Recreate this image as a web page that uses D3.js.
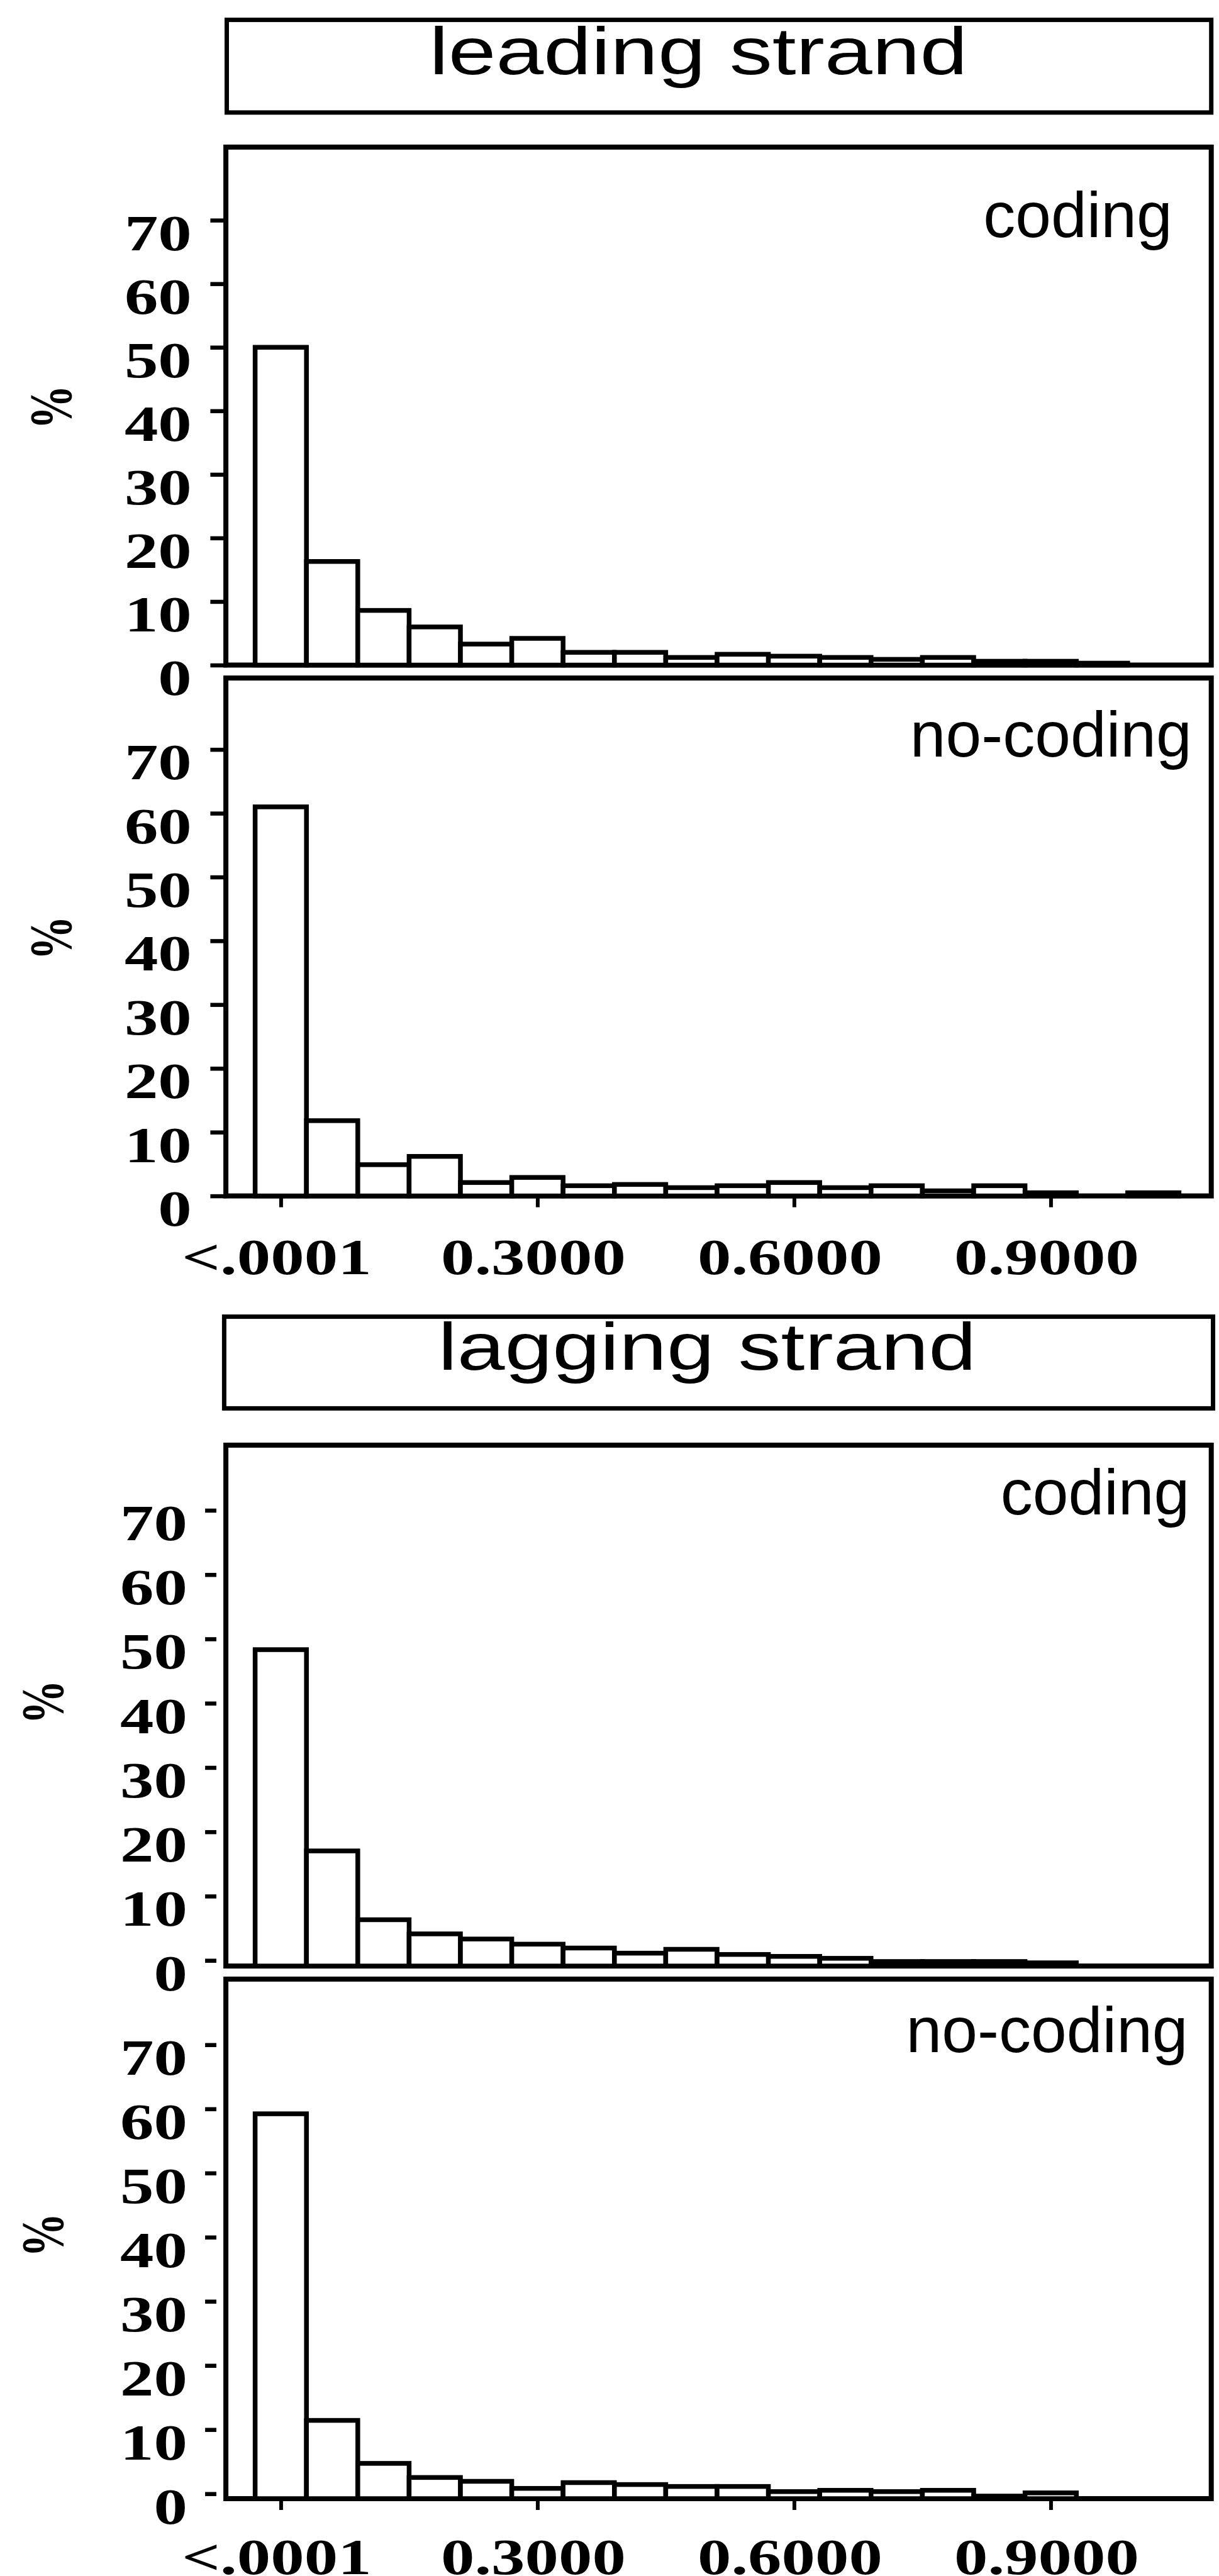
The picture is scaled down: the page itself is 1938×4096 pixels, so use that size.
<!DOCTYPE html>
<html>
<head>
<meta charset="utf-8">
<script src="https://cdn.jsdelivr.net/npm/d3@7"></script>
<style>
  body { margin: 0; background: #fff; }
  svg { display: block; background: #fff; }
</style>
</head>
<body>
<svg id="chart" width="1938" height="4096"></svg>
<script>

// histogram bins (midpoints), width 0.06
const binMids = [0, 0.06, 0.12, 0.18, 0.24, 0.30, 0.36, 0.42, 0.48, 0.54, 0.60, 0.66, 0.72, 0.78, 0.84, 0.90, 0.96, 1.02];
const binWidth = 0.06;

// % of genes per bin
const leadingCoding   = [50, 16.3, 8.6, 6.0, 3.3, 4.2, 2.0, 2.0, 1.2, 1.7, 1.4, 1.2, 0.9, 1.2, 0.6, 0.6, 0.3, 0];
const leadingNoCoding = [61, 11.8, 4.9, 6.2, 2.1, 2.9, 1.6, 1.8, 1.3, 1.6, 2.1, 1.3, 1.6, 0.8, 1.6, 0.5, 0, 0.5];
const laggingCoding   = [49.2, 17.9, 7.2, 5.0, 4.2, 3.4, 2.8, 2.0, 2.6, 1.8, 1.5, 1.2, 0.7, 0.7, 0.7, 0.5, 0, 0];
const laggingNoCoding = [60, 12.2, 5.5, 3.3, 2.7, 1.6, 2.5, 2.2, 1.9, 1.9, 1.1, 1.3, 1.1, 1.3, 0.4, 0.9, 0, 0];

const yTicks = [0, 10, 20, 30, 40, 50, 60, 70];
const xTickValues = [0, 0.3, 0.6, 0.9];
const xTickLabels = ['<.0001', '0.3000', '0.6000', '0.9000'];
const strandTitles = ['leading strand', 'lagging strand'];
const panelLabels = ['coding', 'no-coding', 'coding', 'no-coding'];


let svg = d3.select('#chart');

let serif = "'Liberation Serif', 'Times New Roman', serif";
let sans = "'Liberation Sans', Arial, sans-serif";
let stretch = 1.32;   // the original figure is widened horizontally

let frameLeft = 359.1;
let frameRight = 1925.7;

let x = d3.scaleLinear()
    .domain([-0.0642, 1.0877])
    .range([frameLeft, frameRight]);


// strand title boxes
let titles = [
    {text: strandTitles[0], x0: 360.5, x1: 1925.7, y0: 31.6, y1: 178.9, cx: 1110.4, base: 118.3},
    {text: strandTitles[1], x0: 356.4, x1: 1928.5, y0: 2093.6, y1: 2239.4, cx: 1124.2, base: 2177.5}
];

titles.forEach(function (t) {
    svg.append('rect')
        .attr('x', t.x0)
        .attr('y', t.y0)
        .attr('width', t.x1 - t.x0)
        .attr('height', t.y1 - t.y0)
        .attr('fill', 'none')
        .attr('stroke', '#000')
        .attr('stroke-width', 7);

    svg.append('g')
        .attr('transform', 'translate(' + t.cx + ',' + t.base + ') scale(1.285,1)')
        .append('text')
        .text(t.text)
        .attr('text-anchor', 'middle')
        .attr('font-family', sans)
        .attr('font-size', '106px');
});


let panels = [
    {values: leadingCoding, label: panelLabels[0], top: 233.9, bottom: 1057.5, yMax: 81.5,
     tickShift: 0, tickEnd: 361.2, tickLen: 26.8, labelGap: 56.4,
     labX: 1863.8, labY: 377.0, pctX: 80.5, pctY: 647.4, xAxis: false, xLabY: 124},
    {values: leadingNoCoding, label: panelLabels[1], top: 1078.1, bottom: 1901.6, yMax: 81.2,
     tickShift: 0, tickEnd: 361.2, tickLen: 26.8, labelGap: 56.4,
     labX: 1894.8, labY: 1202.6, pctX: 80.5, pctY: 1491.6, xAxis: true, xLabY: 124},
    {values: laggingCoding, label: panelLabels[2], top: 2297.9, bottom: 3126.1, yMax: 81.0,
     tickShift: -8.9, tickEnd: 344, tickLen: 17.9, labelGap: 46.1,
     labX: 1891.3, labY: 2408, pctX: 68.1, pctY: 2706.6, xAxis: false, xLabY: 124},
    {values: laggingNoCoding, label: panelLabels[3], top: 3146.9, bottom: 3973.0, yMax: 81.0,
     tickShift: -7.8, tickEnd: 344, tickLen: 17.9, labelGap: 46.1,
     labX: 1888.6, labY: 3262.5, pctX: 68.1, pctY: 3554, xAxis: true, xLabY: 120}
];


function drawPanel(p) {

    let y = d3.scaleLinear()
        .domain([0, p.yMax])
        .range([p.bottom, p.top]);

    let g = svg.append('g');

    // panel frame
    g.append('rect')
        .attr('x', frameLeft)
        .attr('y', p.top)
        .attr('width', frameRight - frameLeft)
        .attr('height', p.bottom - p.top)
        .attr('fill', 'none')
        .attr('stroke', '#000')
        .attr('stroke-width', 8);

    let bins = binMids.map((m, i) => ({mid: m, value: p.values[i]}))
        .filter(d => d.value > 0);

    g.selectAll('.bar')
        .data(bins)
        .join('rect')
        .attr('class', 'bar')
        .attr('x', d => x(d.mid - binWidth / 2))
        .attr('width', d => x(d.mid + binWidth / 2) - x(d.mid - binWidth / 2))
        .attr('y', d => y(d.value))
        .attr('height', d => y(0) - y(d.value))
        .attr('fill', '#fff')
        .attr('stroke', '#000')
        .attr('stroke-width', 7.5);

    // y axis
    let yAxis = d3.axisLeft(y)
        .tickValues(yTicks)
        .tickSize(p.tickLen)
        .tickFormat(d3.format('d'));

    let gy = g.append('g')
        .attr('transform', 'translate(' + p.tickEnd + ',' + p.tickShift + ')')
        .call(yAxis)
        .attr('font-family', serif)
        .attr('font-size', 81)
        .attr('font-weight', 'bold');

    gy.select('.domain').remove();
    gy.selectAll('.tick line')
        .attr('stroke', '#000')
        .attr('stroke-width', 6.5);
    gy.selectAll('.tick text')
        .attr('fill', '#000')
        .attr('text-anchor', 'end')
        .attr('x', -p.labelGap / stretch)
        .attr('dy', null)
        .attr('y', 47)
        .attr('transform', 'scale(' + stretch + ',1)');

    // % label
    g.append('text')
        .text('%')
        .attr('transform', 'translate(' + p.pctX + ',' + p.pctY + ') rotate(-90) scale(1,1.35)')
        .attr('text-anchor', 'middle')
        .attr('dy', '0.34em')
        .attr('font-family', serif)
        .attr('font-weight', 'bold')
        .attr('font-size', '70px');

    // panel label
    g.append('text')
        .text(p.label)
        .attr('x', p.labX)
        .attr('y', p.labY)
        .attr('text-anchor', 'end')
        .attr('font-family', sans)
        .attr('font-size', '102px');

    if (p.xAxis) {
        let xAxis = d3.axisBottom(x)
            .tickValues(xTickValues)
            .tickSize(18)
            .tickFormat((d, i) => xTickLabels[i]);

        let gx = g.append('g')
            .attr('transform', 'translate(0,' + p.bottom + ')')
            .call(xAxis)
            .attr('font-family', serif)
            .attr('font-size', 81)
            .attr('font-weight', 'bold');

        gx.select('.domain').remove();
        gx.selectAll('.tick line')
            .attr('stroke', '#000')
            .attr('stroke-width', 6);
        gx.selectAll('.tick text')
            .attr('fill', '#000')
            .attr('x', -7 / stretch)
            .attr('dy', null)
            .attr('y', p.xLabY)
            .attr('transform', 'scale(' + stretch + ',1)');
    }
}

panels.forEach(drawPanel);

</script>
</body>
</html>
